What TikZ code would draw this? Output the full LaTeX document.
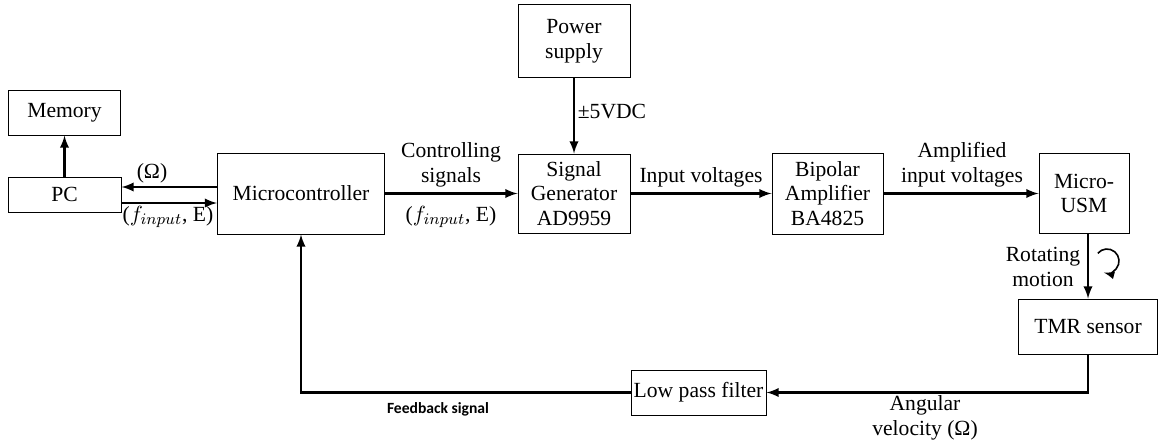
\documentclass[tikz,border=0pt]{standalone}
\usepackage{fontspec}
\setmainfont{Liberation Serif}
\newfontfamily\fbfont{Carlito}
\usetikzlibrary{positioning,arrows,calc}
\tikzset{
  blk/.style ={rectangle, draw=black, line width=0.5pt, fill=white, align=center,
               font=\fontsize{10.8}{12.4}\selectfont, inner sep=1pt},
  fl/.style  ={-latex, line width=1.1pt, draw=black},
  lbl/.style ={align=center, font=\fontsize{10.8}{12.4}\selectfont, inner sep=1pt},
  fbl/.style ={font=\fbfont\bfseries\fontsize{7.8}{9}\selectfont, inner sep=1pt}
}
\begin{document}
\begin{tikzpicture}[x=0.5pt, y=-0.5pt]
  \useasboundingbox (0,0) rectangle (1160,444);
  % blocks
  \node[blk,minimum width=56pt,minimum height=22pt] (mem) at (64.5,113) {Memory};
  \node[blk,minimum width=56.5pt,minimum height=17.5pt] (pc) at (64.5,194.5) {PC};
  \node[blk,minimum width=83.5pt,minimum height=40.5pt] (mcu) at (301,193.5) {Microcontroller};
  \node[blk,minimum width=56pt,minimum height=36.5pt] (psu) at (574,41.5) {Power\\supply};
  \node[blk,minimum width=56pt,minimum height=39.5pt] (sg) at (574,193.5) {Signal\\Generator\\AD9959};
  \node[blk,minimum width=55.5pt,minimum height=40.5pt] (amp) at (827.5,193.5) {Bipolar\\Amplifier\\BA4825};
  \node[blk,minimum width=45pt,minimum height=40pt] (usm) at (1084,193.5) {Micro-\\USM};
  \node[blk,minimum width=69.5pt,minimum height=27.5pt] (tmr) at (1088,326.5) {TMR sensor};
  \node[blk,minimum width=67.5pt,minimum height=22.5pt] (lpf) at (698.5,392.5) {Low pass filter};
  % connectors
  \draw[fl] (pc) -- (mem);
  \draw[fl] ($(mcu.west|-pc.east)+(0,-7.5)$) -- ($(pc.east)+(0,-7.5)$);
  \draw[fl] ($(pc.east)+(0,8.5)$) -- ($(mcu.west|-pc.east)+(0,8.5)$);
  \draw[fl] (mcu) -- (sg);
  \draw[fl] (psu) -- (sg);
  \draw[fl] (sg) -- (amp);
  \draw[fl] (amp) -- (usm);
  \draw[fl] (tmr.north|-usm.south) -- (tmr.north);
  \draw[fl] (tmr.south) |- (lpf.east);
  \draw[fl] (lpf.west) -| (mcu.south);
  % rotation mark
  \coordinate (rot) at (1107,261);
  \draw[-latex, line width=0.8pt] ([shift={(140:6pt)}]rot) arc[start angle=140, end angle=-105, radius=6pt];
  % labels
  \node[lbl] (lomg) at (152,173) {(Ω)};
  \node[lbl] (lfin) at (168,217) {($f_{input}$, E)};
  \node[lbl] (lctl) at (451,165) {Controlling\\signals};
  \node[lbl] (lfsg) at (451,217) {($f_{input}$, E)};
  \node[lbl] (lpwr) at (612,112) {±5VDC};
  \node[lbl] (linv) at (701,177) {Input voltages};
  \node[lbl] (lamp) at (962,165) {Amplified\\input voltages};
  \node[lbl] (lrot) at (1043,267) {Rotating\\motion};
  \node[lbl] (lang) at (925,418) {Angular\\velocity (Ω)};
  \node[fbl] (lfb) at (438,409) {Feedback signal};
\end{tikzpicture}
\end{document}
